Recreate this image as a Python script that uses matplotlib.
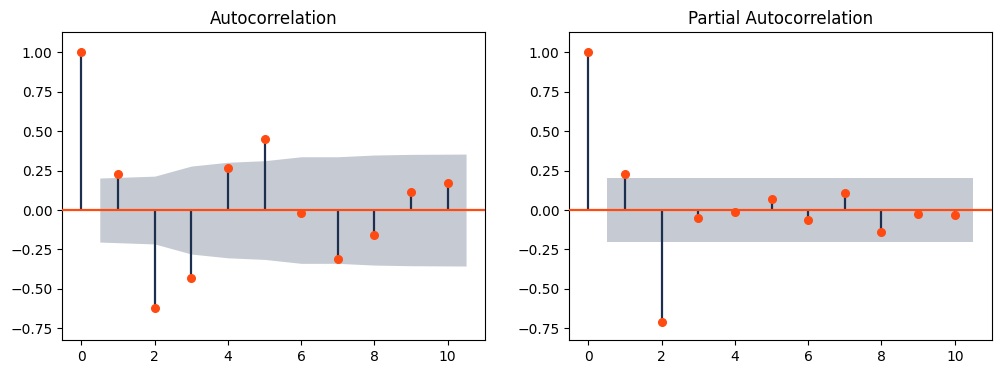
import matplotlib
matplotlib.use("Agg")
import matplotlib.pyplot as plt
import numpy as np

# correlation values
lags = np.arange(0, 11)
acf_vals = [1.0, 0.226, -0.624, -0.433, 0.264, 0.448, -0.021, -0.313, -0.161, 0.112, 0.169]
pacf_vals = [1.0, 0.226, -0.712, -0.053, -0.011, 0.068, -0.066, 0.106, -0.142, -0.027, -0.034]

# half-width of the confidence band for lags 1..10
acf_band = [0.203, 0.215, 0.279, 0.303, 0.313, 0.338, 0.338, 0.349, 0.353, 0.355]
pacf_band = [0.203] * 10

navy = "#1c2f4f"
orange = "#ff4b12"

fig = plt.figure(figsize=(10.01, 3.74), dpi=100)
ax1 = fig.add_axes([0.0622, 0.0909, 0.4226, 0.8227])
ax2 = fig.add_axes([0.5687, 0.0909, 0.4226, 0.8227])


def corr_plot(ax, vals, band, title):
    # band x positions: first and last lag pushed out by half a step
    bx = lags[1:].astype(float)
    bx[0] -= 0.5
    bx[-1] += 0.5
    band = np.array(band)
    ax.fill_between(bx, -band, band, color=navy, alpha=0.25, linewidth=0, zorder=1)
    ax.vlines(lags, 0, vals, colors=navy, linewidth=1.6, zorder=2)
    ax.axhline(0, color=orange, linewidth=1.6, zorder=3)
    ax.plot(lags, vals, "o", color=orange, markersize=5.5, zorder=4)
    ax.set_title(title, fontsize=12)
    ax.set_xlim(-0.525, 11.025)
    ax.set_ylim(-0.824, 1.127)
    ax.set_xticks([0, 2, 4, 6, 8, 10])
    ax.set_yticks([-0.75, -0.5, -0.25, 0, 0.25, 0.5, 0.75, 1.0])
    ax.set_yticklabels(["\u22120.75", "\u22120.50", "\u22120.25", "0.00", "0.25", "0.50", "0.75", "1.00"])


corr_plot(ax1, acf_vals, acf_band, "Autocorrelation")
corr_plot(ax2, pacf_vals, pacf_band, "Partial Autocorrelation")

fig.savefig("out.png", dpi=100)
